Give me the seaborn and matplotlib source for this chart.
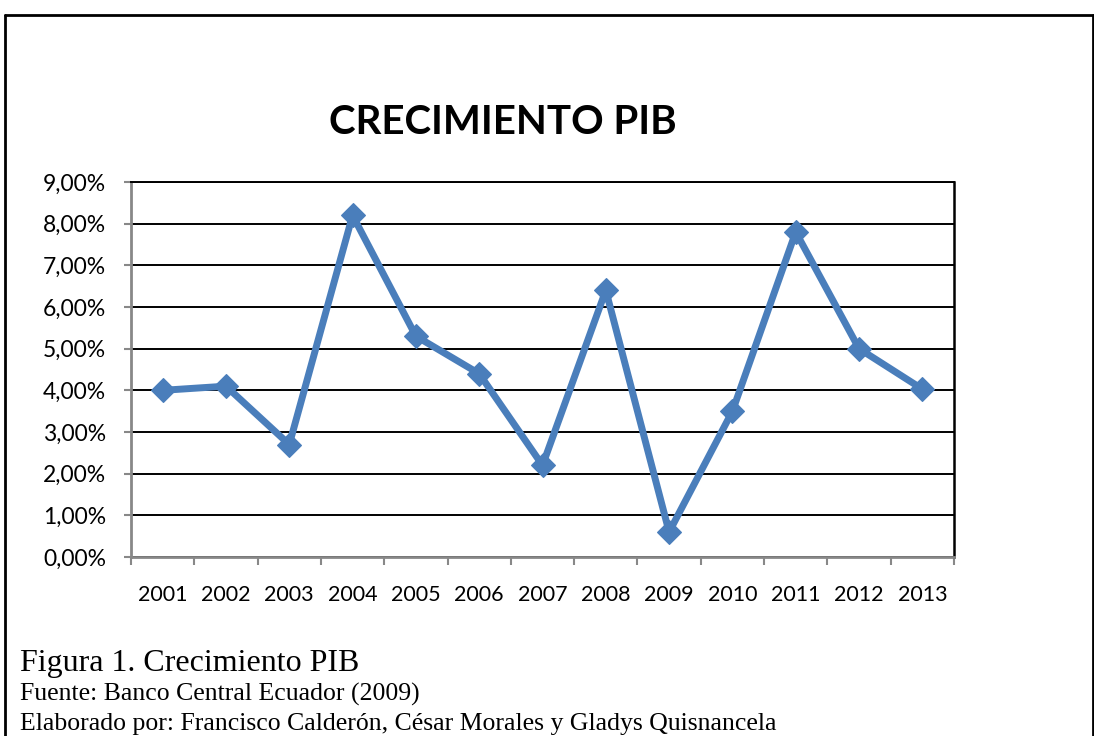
import matplotlib
matplotlib.use("Agg")
import matplotlib.pyplot as plt
import matplotlib.ticker as mticker
from matplotlib.lines import Line2D
import seaborn as sns
import pandas as pd

years = ["2001", "2002", "2003", "2004", "2005", "2006", "2007",
         "2008", "2009", "2010", "2011", "2012", "2013"]
growth = [0.040, 0.041, 0.027, 0.082, 0.053, 0.044, 0.022,
          0.064, 0.006, 0.035, 0.078, 0.050, 0.0403]
y_ticks = [0.00, 0.01, 0.02, 0.03, 0.04, 0.05, 0.06, 0.07, 0.08, 0.09]

title_text = "CRECIMIENTO PIB"
caption1 = "Figura 1. Crecimiento PIB"
caption2 = "Fuente: Banco Central Ecuador (2009)"
caption3 = "Elaborado por: Francisco Calderón, César Morales y Gladys Quisnancela"

sns.set_style("white")
plt.rcParams['font.family'] = ['Lato', 'DejaVu Sans']

W, H = 1094, 736
fig = plt.figure(figsize=(W / 100, H / 100), dpi=100)
fig.patch.set_facecolor("white")

ax = fig.add_axes([131 / W, 1 - 557 / H, (954 - 131) / W, (557 - 182) / H])

df = pd.DataFrame({"idx": list(range(len(years))), "val": growth})
sns.lineplot(data=df, x="idx", y="val", ax=ax, color="#4A7EBB",
             linewidth=5, marker="D", markersize=12, markeredgewidth=0.8,
             markeredgecolor="#4A7EBB", zorder=5)

ax.set_xlim(-0.5, len(years) - 0.5)
ax.set_ylim(0, 0.09)
ax.set_xlabel("")
ax.set_ylabel("")

# gridlines
ax.set_yticks(y_ticks)
ax.yaxis.set_major_formatter(mticker.FuncFormatter(
    lambda v, p: f"{v * 100:.2f}%".replace(".", ",")))
ax.grid(axis="y", color="black", linewidth=1.4)
ax.grid(axis="x", visible=False)
ax.set_axisbelow(True)

# x ticks: marks at boundaries, labels at centres
ax.set_xticks([i - 0.5 for i in range(len(years) + 1)])
ax.set_xticklabels([])
ax.set_xticks(list(range(len(years))), minor=True)
ax.set_xticklabels(years, minor=True)
ax.tick_params(axis="x", which="major", length=6, width=1.5, color="#888888",
               direction="out", bottom=True)
ax.tick_params(axis="x", which="minor", length=0, pad=20, labelsize=15.5,
               labelcolor="black")
ax.tick_params(axis="y", which="major", length=5, width=1.5, color="#888888",
               direction="out", left=True, pad=13, labelsize=16.5,
               labelcolor="black")

for side in ["left", "bottom"]:
    ax.spines[side].set_color("#888888")
    ax.spines[side].set_linewidth(2)
ax.spines["right"].set_color("black")
ax.spines["right"].set_linewidth(1.8)
ax.spines["top"].set_color("black")
ax.spines["top"].set_linewidth(1.4)
for s in ax.spines.values():
    s.set_visible(True)

# title
fig.text(503 / W, 1 - 122 / H, title_text, ha="center", va="center",
         fontsize=29, fontweight="bold", color="black")

# captions
serif = ["Liberation Serif", "DejaVu Serif"]
fig.text(20 / W, 1 - 671 / H, caption1, ha="left", va="baseline",
         fontsize=23, family=serif, color="black")
fig.text(20 / W, 1 - 701 / H, caption2, ha="left", va="baseline",
         fontsize=18.5, family=serif, color="black")
fig.text(20 / W, 1 - 730 / H, caption3, ha="left", va="baseline",
         fontsize=18.5, family=serif, color="black")

# frame border (top, left, right)
lw = 2.0
fig.add_artist(Line2D([4.5 / W, 1093 / W], [1 - 14.5 / H, 1 - 14.5 / H],
                      transform=fig.transFigure, color="black", linewidth=lw))
fig.add_artist(Line2D([4.5 / W, 4.5 / W], [1 - 14.5 / H, 0],
                      transform=fig.transFigure, color="black", linewidth=lw))
fig.add_artist(Line2D([1093 / W, 1093 / W], [1 - 14.5 / H, 0],
                      transform=fig.transFigure, color="black", linewidth=lw))

fig.savefig("out.png", dpi=100, facecolor="white")
